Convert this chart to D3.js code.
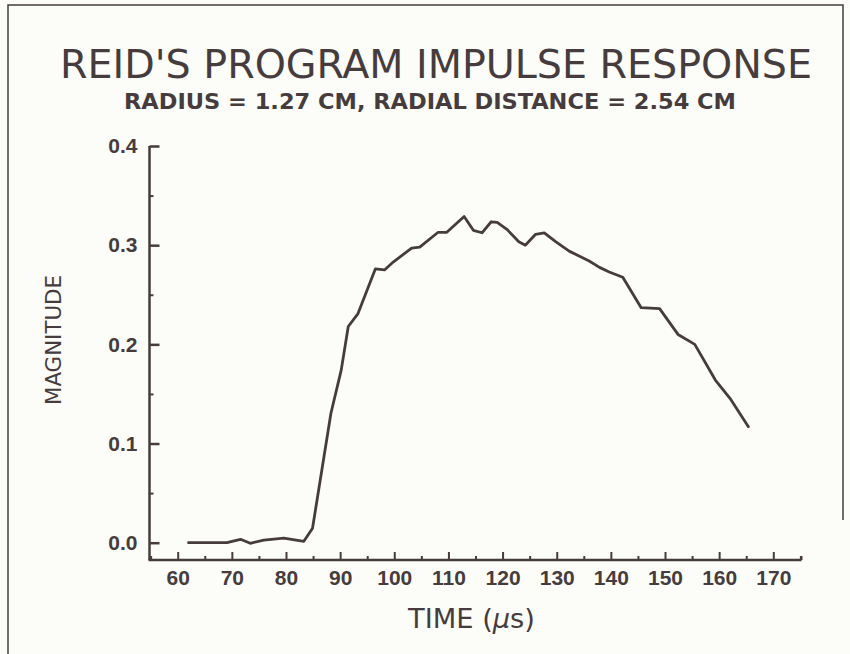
<!DOCTYPE html>
<html>
<head>
<meta charset="utf-8">
<script src="https://cdn.jsdelivr.net/npm/d3@7"></script>
<style>
  body { margin: 0; background: #fcfcf8; }
  svg { display: block; }
</style>
</head>
<body>
<div id="chart"></div>
<script>
// values
const timeUs = [62, 69.1, 71.6, 73.4, 75.9, 79.6, 83.3, 84.9, 88.3, 90.2, 91.5, 93.3, 96.5, 98.2, 99.8,
  103.2, 104.7, 108.1, 109.7, 112.9, 114.6, 116.2, 117.9, 119, 120.8, 123, 124.2, 126.1, 127.7,
  129.8, 132.3, 136, 137.9, 139.7, 142.2, 145.6, 149, 152.4, 155.5, 159.3, 162, 165.4];
const magnitude = [0, 0, 0.0034, -0.0006, 0.0027, 0.0047, 0.0014, 0.0145, 0.1305, 0.174, 0.218, 0.231,
  0.276, 0.275, 0.283, 0.297, 0.298, 0.313, 0.313, 0.329, 0.315, 0.3125, 0.3236, 0.323, 0.316,
  0.3035, 0.300, 0.311, 0.3125, 0.3035, 0.294, 0.284, 0.2776, 0.273, 0.2676, 0.237, 0.236,
  0.210, 0.200, 0.164, 0.1456, 0.117];
const xTicks = [60, 70, 80, 90, 100, 110, 120, 130, 140, 150, 160, 170];
const xMinor = [55, 65, 75, 85, 95, 105, 115, 125, 135, 145, 155, 165, 175];
const yTicks = [0.0, 0.1, 0.2, 0.3, 0.4];
const yMinor = [0.05, 0.15, 0.25, 0.35];

const W = 850, H = 654;
const ink = '#463c3e';
const narrow = '"Liberation Sans Narrow", "DejaVu Sans Condensed", sans-serif';

const svg = d3.select('#chart').append('svg')
  .attr('width', W)
  .attr('height', H);

svg.append('rect').attr('width', W).attr('height', H).attr('fill', '#fcfcf8');

// page frame
svg.append('path')
  .attr('d', 'M8,654 L8,5 L843,5 L843,520')
  .attr('fill', 'none')
  .attr('stroke', ink)
  .attr('stroke-width', 1.5);

// scales: 60 us at x=177.7, 170 at 773.3 ; 0 at y=542.7, 0.4 at 146
const x = d3.scaleLinear().domain([60, 170]).range([177.7, 773.3]);
const y = d3.scaleLinear().domain([0, 0.4]).range([542.7, 146]);

const axisX0 = 149.5, axisX1 = 801.5, axisY = 560;

// titles
svg.append('text')
  .attr('x', 60).attr('y', 78)
  .attr('textLength', 752).attr('lengthAdjust', 'spacingAndGlyphs')
  .style('font-family', narrow)
  .style('font-size', '39px')
  .style('font-weight', 300)
  .style('fill', ink)
  .text("REID'S PROGRAM IMPULSE RESPONSE");

svg.append('text')
  .attr('x', 124).attr('y', 108.5)
  .attr('textLength', 612).attr('lengthAdjust', 'spacingAndGlyphs')
  .style('font-family', narrow)
  .style('font-size', '21px')
  .style('font-weight', 600)
  .style('fill', ink)
  .text('RADIUS = 1.27 CM, RADIAL DISTANCE = 2.54 CM');

// axis lines
svg.append('line')
  .attr('x1', axisX0).attr('x2', axisX0)
  .attr('y1', y(0.4)).attr('y2', axisY)
  .attr('stroke', ink).attr('stroke-width', 2.5);
svg.append('line')
  .attr('x1', axisX0 - 1).attr('x2', axisX1)
  .attr('y1', axisY).attr('y2', axisY)
  .attr('stroke', ink).attr('stroke-width', 2.5);
svg.append('line')
  .attr('x1', axisX1).attr('x2', axisX1)
  .attr('y1', axisY).attr('y2', axisY - 4)
  .attr('stroke', ink).attr('stroke-width', 2);

// y axis (ticks pointing inward)
const yAxisG = svg.append('g')
  .attr('transform', `translate(${axisX0},0)`)
  .call(d3.axisLeft(y).tickValues(yTicks).tickSize(-10).tickPadding(12)
    .tickFormat(d3.format('.1f')));
yAxisG.select('.domain').remove();
yAxisG.selectAll('line').attr('stroke', ink).attr('stroke-width', 2.5);
yAxisG.selectAll('text')
  .style('font-family', '"Liberation Sans", Arial, sans-serif')
  .style('font-size', '21px')
  .style('font-weight', 'bold')
  .style('fill', ink);

const yMinorG = svg.append('g')
  .attr('transform', `translate(${axisX0},0)`)
  .call(d3.axisLeft(y).tickValues(yMinor).tickSize(-4).tickFormat(''));
yMinorG.select('.domain').remove();
yMinorG.selectAll('line').attr('stroke', ink).attr('stroke-width', 2);

// x axis
const xAxisG = svg.append('g')
  .attr('transform', `translate(0,${axisY})`)
  .call(d3.axisBottom(x).tickValues(xTicks).tickSize(-8).tickPadding(10));
xAxisG.select('.domain').remove();
xAxisG.selectAll('line').attr('stroke', ink).attr('stroke-width', 2);
xAxisG.selectAll('text')
  .style('font-family', '"Liberation Sans", Arial, sans-serif')
  .style('font-size', '21px')
  .style('font-weight', 'bold')
  .style('fill', ink);

const xMinorG = svg.append('g')
  .attr('transform', `translate(0,${axisY})`)
  .call(d3.axisBottom(x).tickValues(xMinor).tickSize(-4).tickFormat(''));
xMinorG.select('.domain').remove();
xMinorG.selectAll('line').attr('stroke', ink).attr('stroke-width', 2);

// axis titles
const xt = svg.append('text')
  .attr('x', 408).attr('y', 628)
  .attr('textLength', 127).attr('lengthAdjust', 'spacingAndGlyphs')
  .style('font-family', narrow)
  .style('font-size', '27px')
  .style('fill', ink);
xt.append('tspan').text('TIME (');
xt.append('tspan').style('font-style', 'italic').text('\u00b5');
xt.append('tspan').text('s)');

svg.append('text')
  .attr('transform', 'translate(61,405) rotate(-90)')
  .attr('textLength', 130).attr('lengthAdjust', 'spacingAndGlyphs')
  .style('font-family', narrow)
  .style('font-size', '22px')
  .style('fill', ink)
  .text('MAGNITUDE');

// the response curve
const pts = timeUs.map((t, i) => [t, magnitude[i]]);
svg.append('path')
  .datum(pts)
  .attr('fill', 'none')
  .attr('stroke', ink)
  .attr('stroke-width', 2.8)
  .attr('stroke-linejoin', 'round')
  .attr('stroke-linecap', 'round')
  .attr('d', d3.line().x(d => x(d[0])).y(d => y(d[1])));
</script>
</body>
</html>
